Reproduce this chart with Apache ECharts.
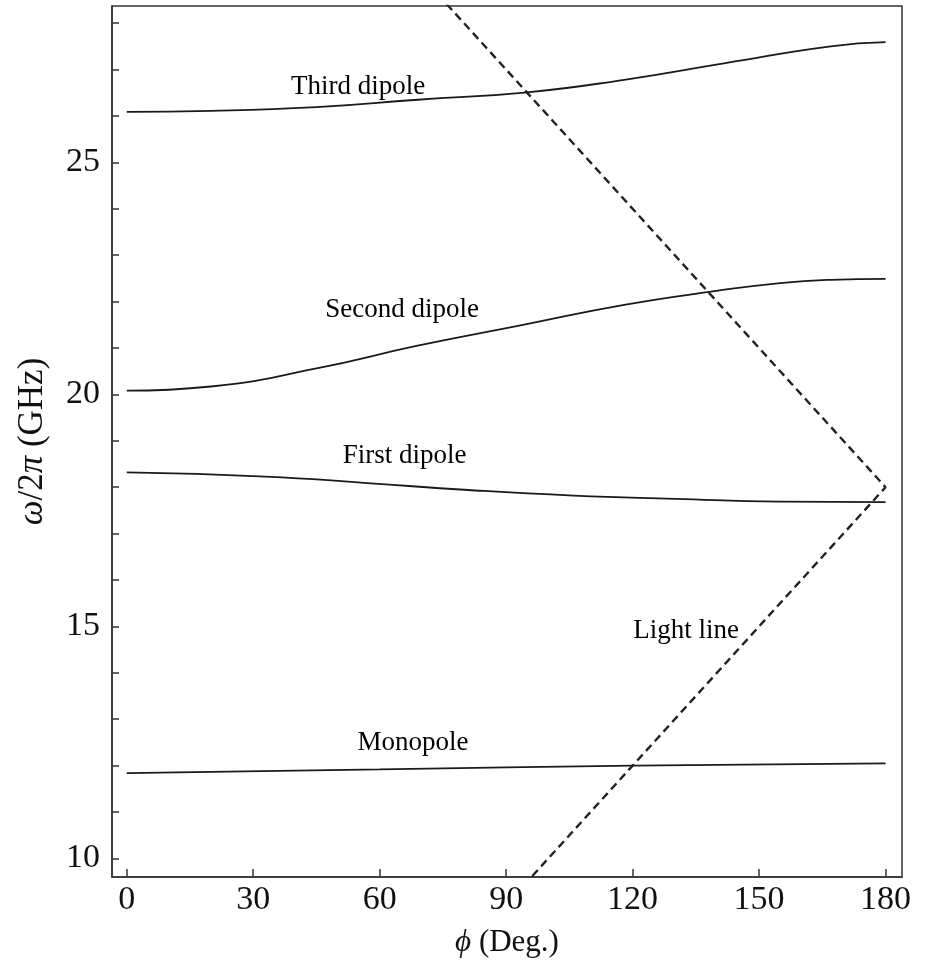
<!DOCTYPE html>
<html>
<head>
<meta charset="utf-8">
<script src="https://cdn.jsdelivr.net/npm/echarts@6/dist/echarts.min.js"></script>
<style>
html,body{margin:0;padding:0;background:#fff;}
#chart{width:926px;height:978px;}
</style>
</head>
<body>
<div id="chart"></div>
<script>
// ---- data ----
const xTicks = [0, 30, 60, 90, 120, 150, 180];
const yMajorTicks = [10, 15, 20, 25];
const yMinorTicks = [10, 11, 12, 13, 14, 15, 16, 17, 18, 19, 20, 21, 22, 23, 24, 25, 26, 27, 28];

const phiThird = [0, 20, 45, 69, 95, 118, 142, 167, 180];
const thirdDipole = [26.09, 26.11, 26.19, 26.35, 26.51, 26.78, 27.14, 27.50, 27.59];

const phiSecond = [0, 20, 45, 69, 94, 118, 139, 155, 167, 180];
const secondDipole = [20.08, 20.17, 20.56, 21.05, 21.50, 21.93, 22.22, 22.40, 22.47, 22.49];

const phiFirst = [0, 33, 57, 81, 106, 130, 155, 180];
const firstDipole = [18.32, 18.23, 18.09, 17.94, 17.82, 17.75, 17.69, 17.68];

const phiMono = [0, 60, 120, 180];
const monopole = [11.84, 11.92, 12.00, 12.05];

const phiLight = [90, 180, 70];
const lightLine = [9.0, 18.0, 29.0];

const labelNames = ['Third dipole', 'Second dipole', 'First dipole', 'Monopole', 'Light line'];
const labelPhi = [54.9, 65.3, 65.9, 67.9, 132.7];
const labelFreq = [26.63, 21.82, 18.67, 12.49, 14.90];

// ---- build ----
const zip = (xs, ys) => xs.map((x, i) => [x, ys[i]]);
const FONT = '"Liberation Serif", "Times New Roman", serif';
const INK = '#111';

const curve = (name, xs, ys) => ({
  name, type: 'line', data: zip(xs, ys), smooth: true, symbol: 'none',
  lineStyle: { color: '#1a1a1a', width: 1.8 }, clip: true, z: 3
});

const chart = echarts.init(document.getElementById('chart'));
chart.setOption({
  animation: false,
  backgroundColor: '#fff',
  grid: { left: 112, right: 24, top: 6, bottom: 101, show: true, borderColor: '#333', borderWidth: 1.5, backgroundColor: 'transparent' },
  xAxis: {
    type: 'value', min: -3.5, max: 183.9,
    name: '{i|ϕ} (Deg.)', nameLocation: 'middle', nameGap: 50,
    nameTextStyle: { fontFamily: FONT, fontSize: 31, color: INK,
      rich: { i: { fontFamily: FONT, fontStyle: 'italic', fontSize: 31, color: INK } } },
    axisLine: { show: true, onZero: false, lineStyle: { color: '#333', width: 1.5 } },
    axisTick: { show: true, inside: true, length: 8, customValues: xTicks, lineStyle: { color: '#333', width: 1.5 } },
    axisLabel: { customValues: xTicks, fontFamily: FONT, fontSize: 34, color: INK, margin: 6 },
    splitLine: { show: false }
  },
  yAxis: {
    type: 'value', min: 9.6, max: 28.37,
    name: '{i|ω}/2{i|π} (GHz)', nameLocation: 'middle', nameGap: 62, nameRotate: 90,
    nameTextStyle: { fontFamily: FONT, fontSize: 35, color: INK,
      rich: { i: { fontFamily: FONT, fontStyle: 'italic', fontSize: 35, color: INK } } },
    axisLine: { show: true, onZero: false, lineStyle: { color: '#333', width: 1.5 } },
    axisTick: { show: true, inside: true, length: 7, customValues: yMinorTicks, lineStyle: { color: '#333', width: 1.5 } },
    axisLabel: { customValues: yMajorTicks, fontFamily: FONT, fontSize: 34, color: INK, margin: 12 },
    splitLine: { show: false }
  },
  series: [
    curve('Third dipole', phiThird, thirdDipole),
    curve('Second dipole', phiSecond, secondDipole),
    curve('First dipole', phiFirst, firstDipole),
    curve('Monopole', phiMono, monopole),
    {
      name: 'Light line', type: 'line', data: zip(phiLight, lightLine), smooth: false, symbol: 'none',
      lineStyle: { color: '#222', width: 2.4, type: [8, 5] }, clip: true, z: 2
    },
    {
      name: 'labels', type: 'scatter', symbolSize: 0, silent: true, z: 5,
      itemStyle: { color: '#000', opacity: 1 },
      data: labelNames.map((n, i) => ({ name: n, value: [labelPhi[i], labelFreq[i]] })),
      label: { show: true, position: 'inside', formatter: p => p.name, fontFamily: FONT, fontSize: 27,
        color: '#000', textBorderWidth: 0, opacity: 1 }
    }
  ]
});
</script>
</body>
</html>
